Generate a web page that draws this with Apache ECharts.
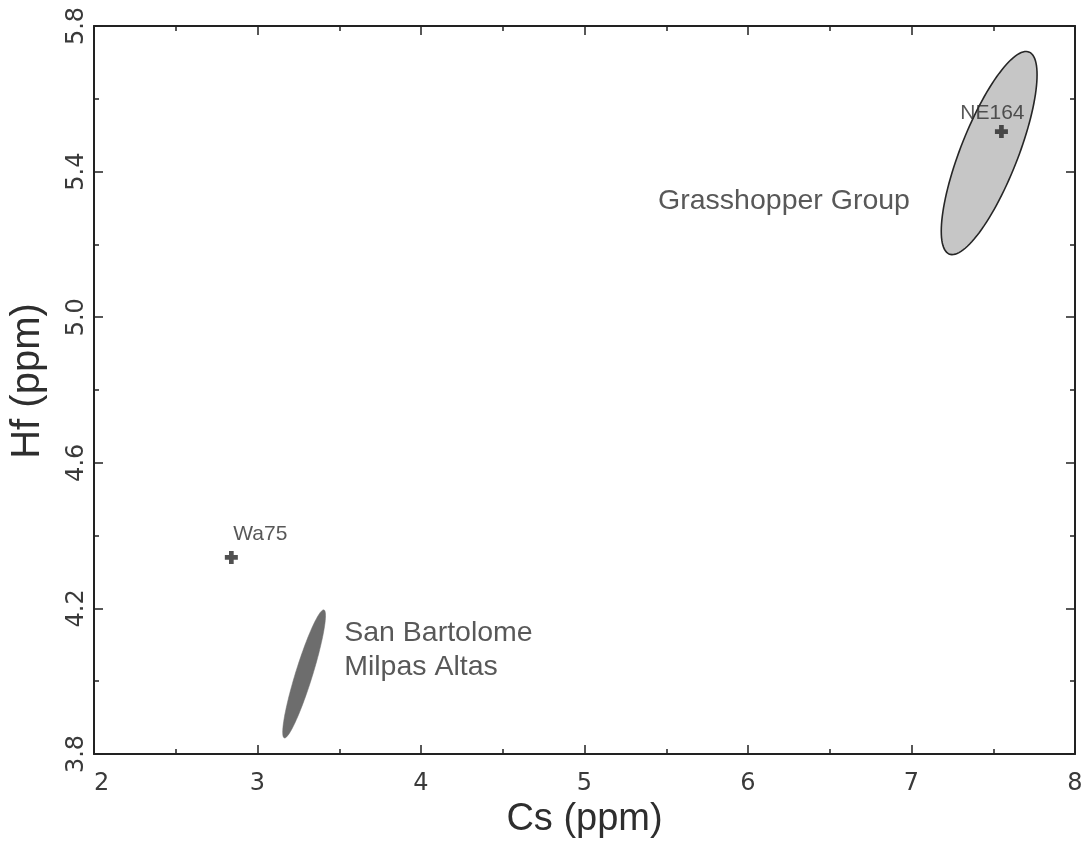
<!DOCTYPE html>
<html>
<head>
<meta charset="utf-8">
<script src="https://cdn.jsdelivr.net/npm/echarts@6/dist/echarts.min.js"></script>
<style>
html,body{margin:0;padding:0;background:#ffffff;}
#chart{width:1089px;height:846px;}
</style>
</head>
<body>
<div id="chart"></div>
<script>
// ---- data ----
var xMin = 2, xMax = 8, xStep = 1;
var yMin = 3.8, yMax = 5.8;
var yMajorTicks = [3.8, 4.2, 4.6, 5.0, 5.4, 5.8];
var yMinorTicks = [4.0, 4.4, 4.8, 5.2, 5.6];

var sampleNames = ['Wa75', 'NE164'];
var sampleCs = [2.84, 7.55];
var sampleHf = [4.34, 5.51];

// confidence ellipses: centre, half-extent in x and y, correlation
var ellipseNames = ['Grasshopper Group', 'San Bartolome Milpas Altas'];
var ellipseCx = [7.475, 3.285];
var ellipseCy = [5.451, 4.020];
var ellipseHalfX = [0.293, 0.131];
var ellipseHalfY = [0.279, 0.176];
var ellipseCorr = [0.77, 0.91];

var groupLabelText = ['Grasshopper Group', 'San Bartolome\nMilpas Altas'];
var groupLabelCs = [5.45, 3.53];
var groupLabelHf = [5.32, 4.086];

// ---- styles ----
var ellipseFill = ['#c6c6c6', '#6d6d6d'];
var ellipseStroke = ['#262626', '#6d6d6d'];
var ellipseWidth = [1.6, 0.5];
var sampleLabelOffset = [[29, -1], [-9, 4]];

var tickFont = 'DejaVu Sans';
var textFont = 'Liberation Sans, Arial, sans-serif';
var axisColor = '#222';

var chart = echarts.init(document.getElementById('chart'));

var ellipseData = ellipseNames.map(function (n, i) {
  return { name: n, value: [ellipseCx[i], ellipseCy[i], ellipseHalfX[i], ellipseHalfY[i], ellipseCorr[i], i] };
});
var sampleData = sampleNames.map(function (n, i) {
  return {
    name: n, value: [sampleCs[i], sampleHf[i]],
    label: { offset: sampleLabelOffset[i] }
  };
});
var groupLabelData = groupLabelText.map(function (t, i) {
  return { name: t, value: [groupLabelCs[i], groupLabelHf[i]] };
});

function axisCommonX(pos, showLabel) {
  return {
    type: 'value', position: pos, min: xMin, max: xMax, interval: xStep,
    axisLine: { show: true, onZero: false, lineStyle: { color: axisColor, width: 2 } },
    axisTick: { show: true, inside: true, length: 9, lineStyle: { color: axisColor, width: 1.5 } },
    minorTick: { show: true, splitNumber: 2, length: 5, lineStyle: { color: axisColor, width: 1.5 } },
    splitLine: { show: false },
    axisLabel: { show: showLabel, fontFamily: tickFont, fontSize: 24, color: '#3a3a3a', margin: 18, alignMinLabel: 'left' }
  };
}
function axisY(pos, ticks, len, showLine, showLabel) {
  return {
    type: 'value', position: pos, min: yMin, max: yMax,
    axisLine: { show: showLine, onZero: false, lineStyle: { color: axisColor, width: 2 } },
    axisTick: { show: true, inside: true, length: len, customValues: ticks, lineStyle: { color: axisColor, width: 1.5 } },
    splitLine: { show: false },
    axisLabel: {
      show: showLabel, customValues: ticks, rotate: 90, fontFamily: tickFont, fontSize: 24, color: '#3a3a3a', margin: 5,
      formatter: function (v) { return v.toFixed(1); }
    }
  };
}

var xBottom = axisCommonX('bottom', true);
xBottom.name = 'Cs (ppm)';
xBottom.nameLocation = 'middle';
xBottom.nameGap = 45;
xBottom.nameTextStyle = { fontFamily: textFont, fontSize: 38, color: '#2e2e2e' };
var xTop = axisCommonX('top', false);

var yLeft = axisY('left', yMajorTicks, 9, true, true);
yLeft.name = 'Hf (ppm)';
yLeft.nameLocation = 'middle';
yLeft.nameGap = 46;
yLeft.nameTextStyle = { fontFamily: textFont, fontSize: 40, color: '#2e2e2e', padding: [0, 0, 0, 18] };
var yLeftMinor = axisY('left', yMinorTicks, 5, false, false);
var yRight = axisY('right', yMajorTicks, 9, true, false);
var yRightMinor = axisY('right', yMinorTicks, 5, false, false);

var option = {
  backgroundColor: '#ffffff',
  animation: false,
  grid: { left: 92, right: 14, top: 26, bottom: 92, containLabel: false },
  xAxis: [xBottom, xTop],
  yAxis: [yLeft, yLeftMinor, yRight, yRightMinor],
  series: [
    {
      type: 'custom', name: 'ellipses', xAxisIndex: 0, yAxisIndex: 0, z: 2,
      data: ellipseData,
      encode: { x: 0, y: 1 },
      renderItem: function (params, api) {
        var cx = api.value(0), cy = api.value(1), hx = api.value(2), hy = api.value(3), r = api.value(4), idx = api.value(5);
        var s = Math.sqrt(1 - r * r);
        var pts = [];
        var n = 120;
        for (var k = 0; k < n; k++) {
          var t = 2 * Math.PI * k / n;
          var px = cx + hx * Math.cos(t);
          var py = cy + hy * (r * Math.cos(t) + s * Math.sin(t));
          pts.push(api.coord([px, py]));
        }
        return {
          type: 'polygon',
          shape: { points: pts },
          style: { fill: ellipseFill[idx], stroke: ellipseStroke[idx], lineWidth: ellipseWidth[idx] }
        };
      }
    },
    {
      type: 'scatter', name: 'samples', xAxisIndex: 0, yAxisIndex: 0, z: 5,
      symbol: 'path://M3.2,0H6.8V3.2H10V6.8H6.8V10H3.2V6.8H0V3.2H3.2Z',
      symbolSize: 13,
      itemStyle: { color: '#262626' },
      data: sampleData,
      label: {
        show: true, position: 'top', distance: 5,
        formatter: '{b}', fontFamily: textFont, fontSize: 21, color: '#2e2e2e'
      }
    },
    {
      type: 'scatter', name: 'groupLabels', xAxisIndex: 0, yAxisIndex: 0, z: 6,
      symbolSize: 0, silent: true,
      data: groupLabelData,
      label: {
        show: true, position: 'right', distance: 0, align: 'left', verticalAlign: 'middle',
        formatter: '{b}', fontFamily: textFont, fontSize: 28.5, lineHeight: 34, color: '#2e2e2e'
      }
    }
  ]
};
chart.setOption(option);
</script>
</body>
</html>
